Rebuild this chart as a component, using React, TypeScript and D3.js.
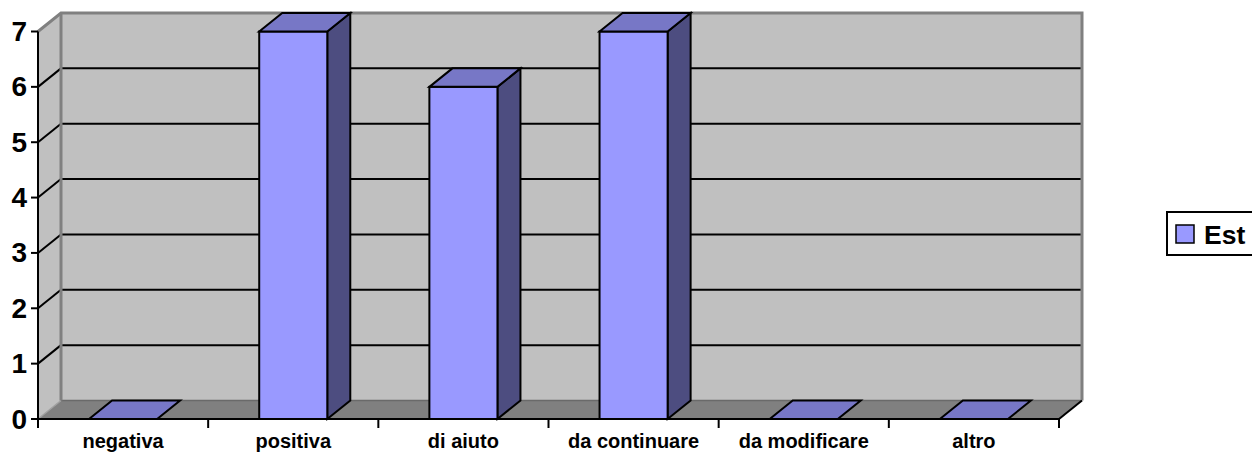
import React from "react";
import * as d3 from "d3";

const categories = ["negativa", "positiva", "di aiuto", "da continuare", "da modificare", "altro"];
const estValues = [0, 7, 6, 7, 0, 0];
const yTicks = [0, 1, 2, 3, 4, 5, 6, 7];
const seriesName = "Est";

const W = 1252;
const H = 455;
const DX = 23;
const DY = -18.5;
const FONT = "'Liberation Sans', Arial, Helvetica, sans-serif";

export default function App() {
  const x = d3.scaleBand<string>().domain(categories).range([38, 1059]).paddingInner(0).paddingOuter(0);
  const y = d3.scaleLinear().domain([0, 7]).range([419, 31.5]);
  const x0 = 38, x1 = 1059;
  const y0 = y(0), yTop = y(7);
  const barW = x.bandwidth() / 2.5;
  const pts = (a: number[][]) => a.map((p) => p.join(",")).join(" ");

  const front = "#9999FF";
  const topC = "#7777C6";
  const sideC = "#4D4D80";

  return (
    <svg width={W} height={H} style={{ position: "absolute", left: 0, top: 0 }} fontFamily={FONT}>
      <rect x={0} y={0} width={W} height={H} fill="#fff" />
      {/* back wall */}
      <rect x={x0 + DX} y={yTop + DY} width={x1 - x0} height={y0 - yTop} fill="#C0C0C0" />
      {/* left side wall */}
      <polygon points={pts([[x0, yTop], [x0 + DX, yTop + DY], [x0 + DX, y0 + DY], [x0, y0]])} fill="#C0C0C0" />
      {/* gridlines */}
      {yTicks.filter((v) => v > 0 && v < 7).map((v) => (
        <g key={"g" + v}>
          <line x1={x0} y1={y(v)} x2={x0 + DX} y2={y(v) + DY} stroke="#000" strokeWidth={2} />
          <line x1={x0 + DX} y1={y(v) + DY} x2={x1 + DX} y2={y(v) + DY} stroke="#000" strokeWidth={2} />
        </g>
      ))}
      {/* floor */}
      <polygon points={pts([[x0, y0], [x0 + DX, y0 + DY], [x1 + DX, y0 + DY], [x1, y0]])} fill="#808080" />
      <line x1={x0 + DX} y1={y0 + DY} x2={x1 + DX} y2={y0 + DY} stroke="#6a6a6a" strokeWidth={1.5} />
      <line x1={x0} y1={y0} x2={x0 + DX} y2={y0 + DY} stroke="#a0a0a0" strokeWidth={1.5} />
      {/* wall borders */}
      <polyline points={pts([[x0, yTop], [x0 + DX, yTop + DY], [x1 + DX, yTop + DY], [x1 + DX, y0 + DY]])} fill="none" stroke="#808080" strokeWidth={3} />
      <line x1={x0 + DX} y1={yTop + DY} x2={x0 + DX} y2={y0 + DY} stroke="#808080" strokeWidth={3} />
      <line x1={x1} y1={y0} x2={x1 + DX} y2={y0 + DY} stroke="#000" strokeWidth={2} />
      {/* bars */}
      {categories.map((c, i) => {
        const v = estValues[i];
        const cx = (x(c) as number) + x.bandwidth() / 2;
        const bx0 = cx - barW / 2;
        const bx1 = cx + barW / 2;
        const yt = y(v);
        return (
          <g key={c} stroke="#000" strokeWidth={2} strokeLinejoin="miter">
            {v > 0 && (
              <>
                <polygon points={pts([[bx1, yt], [bx1 + DX, yt + DY], [bx1 + DX, y0 + DY], [bx1, y0]])} fill={sideC} />
                <rect x={bx0} y={yt} width={barW} height={y0 - yt} fill={front} />
              </>
            )}
            <polygon points={pts([[bx0, yt], [bx0 + DX, yt + DY], [bx1 + DX, yt + DY], [bx1, yt]])} fill={topC} />
          </g>
        );
      })}
      {/* axes */}
      <line x1={x0} y1={yTop} x2={x0} y2={y0} stroke="#000" strokeWidth={2} />
      <line x1={x0} y1={y0} x2={x1} y2={y0} stroke="#000" strokeWidth={2} />
      {yTicks.map((v) => (
        <g key={"t" + v}>
          <line x1={x0 - 7} y1={y(v)} x2={x0} y2={y(v)} stroke="#000" strokeWidth={2} />
          <text x={27} y={y(v)} textAnchor="end" dominantBaseline="central" fontSize={28} fontWeight="bold">{v}</text>
        </g>
      ))}
      {[...categories.map((c) => x(c) as number), x1].map((t, i) => (
        <line key={"xt" + i} x1={t} y1={y0} x2={t} y2={y0 + 9} stroke="#000" strokeWidth={2} />
      ))}
      {categories.map((c) => (
        <text key={"l" + c} x={(x(c) as number) + x.bandwidth() / 2} y={448} textAnchor="middle" fontSize={20} fontWeight="bold">{c}</text>
      ))}
      {/* legend */}
      <rect x={1167} y={212} width={100} height={43} fill="#fff" stroke="#000" strokeWidth={2} />
      <rect x={1176} y={225} width={18} height={18} fill={front} stroke="#000" strokeWidth={1.5} />
      <text x={1204} y={244} fontSize={26.5} fontWeight="bold">{seriesName}</text>
    </svg>
  );
}
